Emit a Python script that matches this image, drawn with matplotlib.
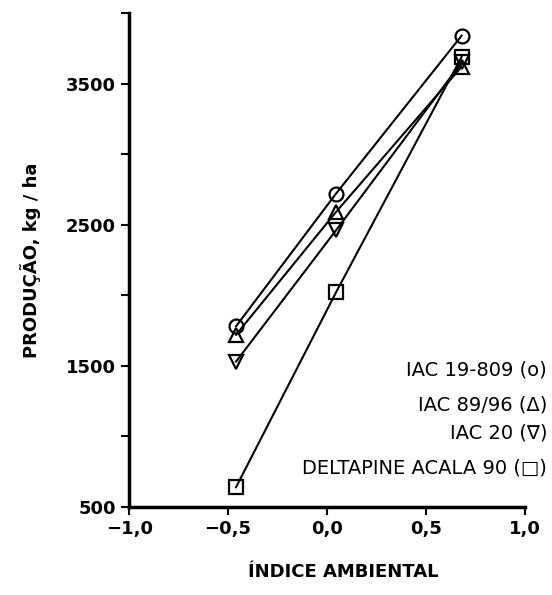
import matplotlib
matplotlib.use("Agg")
from matplotlib import pyplot as plt

# indice ambiental (x) e producao kg/ha (y)
x_env = [-0.46, 0.045, 0.68]
iac_19_809 = [1780, 2720, 3840]
iac_89_96 = [1720, 2590, 3620]
iac_20 = [1530, 2460, 3650]
deltapine = [640, 2020, 3690]

series = [
    (iac_19_809, "o"),
    (iac_89_96, "^"),
    (iac_20, "v"),
    (deltapine, "s"),
]
legend_lines = ["IAC 19-809 (o)", "IAC 89/96 (\u0394)", "IAC 20 (\u2207)", "DELTAPINE ACALA 90 (\u25a1)"]

xticks = [-1.0, -0.5, 0.0, 0.5, 1.0]
xtick_labels = ["\u22121,0", "\u22120,5", "0,0", "0,5", "1,0"]
yticks = [500, 1500, 2500, 3500]

fig = plt.figure(figsize=(5.52, 5.95), dpi=100)
ax = fig.add_axes([0.234, 0.148, 0.717, 0.830])

for vals, mk in series:
    ax.plot(x_env, vals, color="black", lw=1.5, marker=mk, ms=10,
            mfc="none", mec="black", mew=1.6)

ax.set_xlim(-1.0, 1.0)
ax.set_ylim(500, 4000)
ax.set_xticks(xticks)
ax.set_xticklabels(xtick_labels, fontweight="bold")
ax.set_yticks(yticks)
ax.set_yticklabels([str(v) for v in yticks], fontweight="bold")
ax.set_yticks([1000, 2000, 3000, 4000], minor=True)
ax.tick_params(axis="both", which="major", length=6, width=1.5, labelsize=13, direction="out")
ax.tick_params(axis="y", which="minor", length=6, width=1.5, direction="out")

for side in ["top", "right"]:
    ax.spines[side].set_visible(False)
for side in ["left", "bottom"]:
    ax.spines[side].set_linewidth(2.5)

ax.set_xlabel("\u00cdNDICE AMBIENTAL", fontsize=13, fontweight="bold", labelpad=18, x=0.54)
ax.set_ylabel("PRODU\u00c7\u00c3O, kg / ha", fontsize=13, fontweight="bold", labelpad=18, y=0.50)

leg_y = [370, 405, 433, 468]
for txt, py in zip(legend_lines, leg_y):
    fig.text(547 / 552, 1 - py / 595, txt, ha="right", va="center", fontsize=14)

fig.savefig("out.png", dpi=100)
